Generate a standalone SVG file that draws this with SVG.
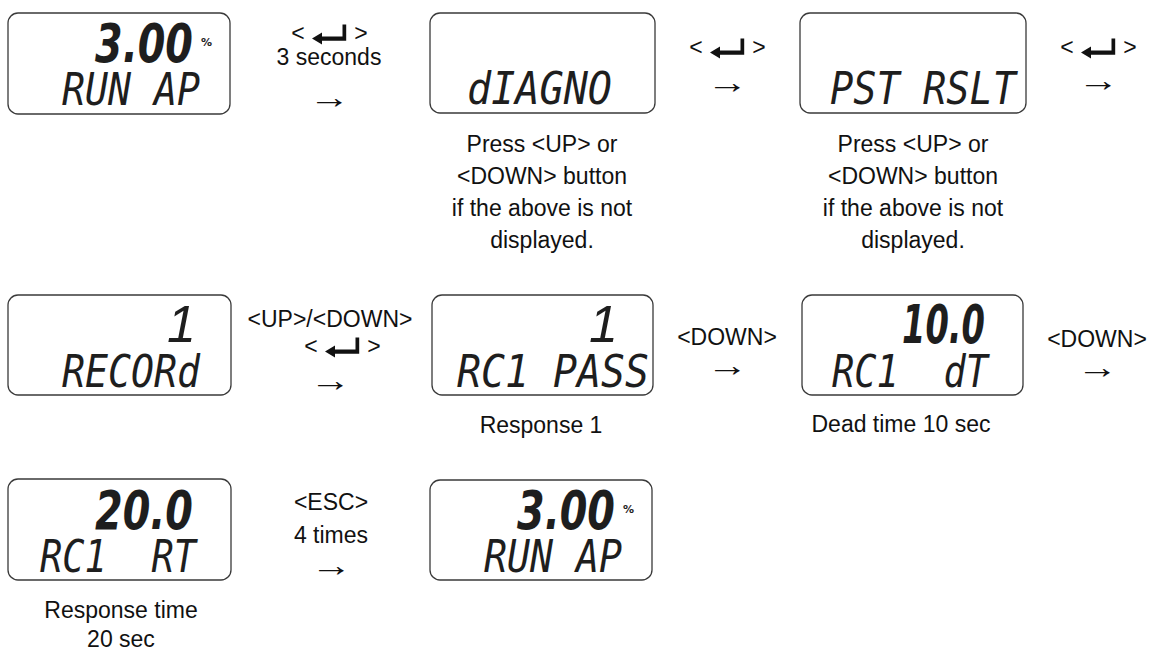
<svg xmlns="http://www.w3.org/2000/svg" xmlns:xlink="http://www.w3.org/1999/xlink" width="1151" height="651" viewBox="0 0 1151 651">
<style>
.box{fill:#fff;stroke:#3a3a3a;stroke-width:1.3}
.lcd{font-family:"DejaVu Sans Mono","Liberation Mono",monospace;font-size:44px;font-style:oblique;fill:#1e1e1e;white-space:pre}
.big{font-family:"DejaVu Sans","Liberation Sans",sans-serif;font-size:54px;font-weight:bold;font-style:oblique;fill:#1e1e1e}
.one{font-family:"Liberation Sans",Arial,sans-serif;font-size:52px;font-style:italic;fill:#1e1e1e;text-anchor:end}
.pct{font-family:"DejaVu Sans","Liberation Sans",sans-serif;font-size:11px;font-weight:bold;fill:#1e1e1e}
.lbl{font-family:"Liberation Sans",Arial,sans-serif;font-size:23px;fill:#111;text-anchor:middle}
.arr{font-family:"Liberation Sans",Arial,sans-serif;font-size:32px;fill:#111;text-anchor:middle}
</style>
<defs>
<g id="enter">
<path d="M-17 4.5 L-7 -1.5 L-7 2.4 L13.5 2.4 L13.5 -9.5 L17.2 -9.5 L17.2 6.8 L-7 6.8 L-7 10.5 Z" fill="#111"/>
</g>
</defs>

<g id="nodeA">
<rect class="box" x="8" y="13" width="222" height="101" rx="10"/>
<text class="big" x="95" y="62" textLength="98" lengthAdjust="spacingAndGlyphs">3.00</text>
<text class="pct" x="201" y="46">%</text>
<text class="lcd" x="62" y="105" textLength="138" lengthAdjust="spacingAndGlyphs" xml:space="preserve">RUN AP</text>
</g>

<g id="nodeB">
<rect class="box" x="430" y="13" width="225" height="100" rx="10"/>
<text class="lcd" x="467" y="104" textLength="145" lengthAdjust="spacingAndGlyphs">dIAGNO</text>
</g>

<g id="nodeC">
<rect class="box" x="800" y="13" width="226" height="100" rx="10"/>
<text class="lcd" x="830" y="104" textLength="186" lengthAdjust="spacingAndGlyphs" xml:space="preserve">PST RSLT</text>
</g>

<g id="noteB">
<text class="lbl" x="542" y="152">Press &lt;UP&gt; or</text>
<text class="lbl" x="542" y="184">&lt;DOWN&gt; button</text>
<text class="lbl" x="542" y="216">if the above is not</text>
<text class="lbl" x="542" y="248">displayed.</text>
</g>

<g id="noteC">
<text class="lbl" x="913" y="152">Press &lt;UP&gt; or</text>
<text class="lbl" x="913" y="184">&lt;DOWN&gt; button</text>
<text class="lbl" x="913" y="216">if the above is not</text>
<text class="lbl" x="913" y="248">displayed.</text>
</g>

<g id="nodeD">
<rect class="box" x="8" y="295" width="223" height="100" rx="10"/>
<text class="one" x="196" y="342">1</text>
<text class="lcd" x="62" y="387" textLength="138" lengthAdjust="spacingAndGlyphs">RECORd</text>
</g>

<g id="nodeE">
<rect class="box" x="432" y="295" width="221" height="100" rx="10"/>
<text class="one" x="618" y="342">1</text>
<text class="lcd" x="457" y="387" textLength="192" lengthAdjust="spacingAndGlyphs" xml:space="preserve">RC1 PASS</text>
<text class="lbl" x="541" y="433">Response 1</text>
</g>

<g id="nodeG">
<rect class="box" x="802" y="295" width="221" height="100" rx="10"/>
<text class="big" x="902" y="343" textLength="83" lengthAdjust="spacingAndGlyphs">10.0</text>
<text class="lcd" x="832" y="387" textLength="156" lengthAdjust="spacingAndGlyphs" xml:space="preserve">RC1  dT</text>
<text class="lbl" x="901" y="432">Dead time 10 sec</text>
</g>

<g id="nodeF">
<rect class="box" x="8" y="479" width="223" height="101" rx="10"/>
<text class="big" x="95" y="529" textLength="98" lengthAdjust="spacingAndGlyphs">20.0</text>
<text class="lcd" x="40" y="572" textLength="156" lengthAdjust="spacingAndGlyphs" xml:space="preserve">RC1  RT</text>
<text class="lbl" x="121" y="618">Response time</text>
<text class="lbl" x="121" y="647">20 sec</text>
</g>

<g id="nodeH">
<rect class="box" x="430" y="480" width="222" height="100" rx="10"/>
<text class="big" x="517" y="529" textLength="98" lengthAdjust="spacingAndGlyphs">3.00</text>
<text class="pct" x="623" y="513">%</text>
<text class="lcd" x="484" y="572" textLength="138" lengthAdjust="spacingAndGlyphs" xml:space="preserve">RUN AP</text>
</g>

<g id="connectors">
<g id="c1">
<text class="lbl" x="298" y="41">&lt;</text>
<use xlink:href="#enter" x="329" y="34"/>
<text class="lbl" x="361" y="41">&gt;</text>
<text class="lbl" x="329" y="65">3 seconds</text>
<text class="arr" transform="translate(329,108) scale(1.3,1)">→</text>
</g>
<g id="c2">
<text class="lbl" x="696" y="55">&lt;</text>
<use xlink:href="#enter" x="727" y="48"/>
<text class="lbl" x="759" y="55">&gt;</text>
<text class="arr" transform="translate(727,93) scale(1.3,1)">→</text>
</g>
<g id="c3">
<text class="lbl" x="1067" y="55">&lt;</text>
<use xlink:href="#enter" x="1098" y="48"/>
<text class="lbl" x="1130" y="55">&gt;</text>
<text class="arr" transform="translate(1098,91) scale(1.3,1)">→</text>
</g>
<g id="c4">
<text class="lbl" x="330" y="327">&lt;UP&gt;/&lt;DOWN&gt;</text>
<text class="lbl" x="311" y="354">&lt;</text>
<use xlink:href="#enter" x="342" y="347"/>
<text class="lbl" x="374" y="354">&gt;</text>
<text class="arr" transform="translate(330,391) scale(1.3,1)">→</text>
</g>
<g id="c5">
<text class="lbl" x="727" y="345">&lt;DOWN&gt;</text>
<text class="arr" transform="translate(727,376) scale(1.3,1)">→</text>
</g>
<g id="c6">
<text class="lbl" x="1097" y="347">&lt;DOWN&gt;</text>
<text class="arr" transform="translate(1097,378) scale(1.3,1)">→</text>
</g>
<g id="c7">
<text class="lbl" x="331" y="510">&lt;ESC&gt;</text>
<text class="lbl" x="331" y="543">4 times</text>
<text class="arr" transform="translate(331,576) scale(1.3,1)">→</text>
</g>
</g>
</svg>
